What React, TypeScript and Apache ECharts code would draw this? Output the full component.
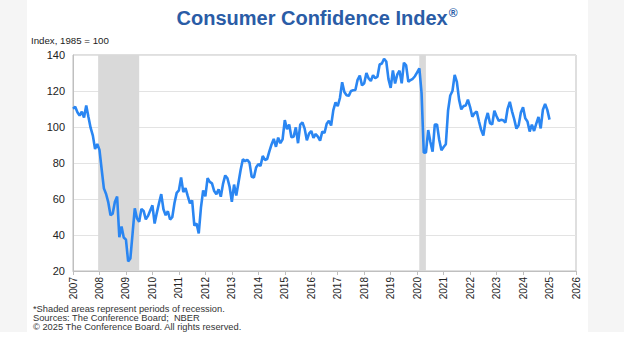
import React, { useEffect, useRef } from "react";
import * as echarts from "echarts";

const years = [2007, 2008, 2009, 2010, 2011, 2012, 2013, 2014, 2015, 2016, 2017, 2018, 2019, 2020, 2021, 2022, 2023, 2024, 2025];

const v2007 = [110.2, 111.2, 108.2, 106.3, 108.5, 105.3, 111.9, 105.6, 99.5, 95.2, 87.8, 90.6];
const v2008 = [87.3, 76.4, 65.9, 62.8, 58.1, 51.0, 51.9, 58.5, 61.4, 38.8, 44.7, 38.6];
const v2009 = [37.4, 25.3, 26.9, 40.8, 54.8, 49.3, 47.4, 54.5, 53.4, 48.7, 50.6, 53.6];
const v2010 = [56.5, 46.4, 52.3, 57.7, 62.7, 54.3, 51.0, 53.2, 48.6, 49.9, 57.8, 63.4];
const v2011 = [64.8, 72.0, 63.8, 66.0, 61.7, 57.6, 59.2, 45.2, 46.4, 40.9, 55.2, 64.8];
const v2012 = [61.5, 71.6, 69.5, 68.7, 64.4, 62.7, 65.4, 61.3, 68.4, 73.1, 71.5, 66.7];
const v2013 = [58.4, 68.0, 61.9, 69.0, 76.2, 82.1, 81.0, 81.8, 80.2, 72.4, 72.0, 77.5];
const v2014 = [79.4, 78.3, 83.9, 81.7, 82.2, 86.4, 90.3, 93.4, 89.0, 94.1, 91.0, 93.1];
const v2015 = [103.8, 98.8, 101.4, 94.3, 94.6, 99.8, 91.0, 101.3, 102.6, 99.1, 92.6, 96.3];
const v2016 = [97.8, 94.0, 96.1, 94.7, 92.4, 97.4, 96.7, 101.8, 103.5, 100.8, 109.4, 113.7];
const v2017 = [111.6, 116.1, 124.9, 119.4, 117.6, 117.3, 120.0, 120.4, 120.6, 126.2, 128.6, 123.1];
const v2018 = [124.3, 130.0, 127.0, 125.6, 128.8, 127.1, 127.9, 134.7, 135.3, 137.9, 136.4, 126.6];
const v2019 = [121.7, 131.4, 124.2, 129.2, 131.3, 124.3, 135.7, 134.2, 125.1, 126.1, 126.8, 128.2];
const v2020 = [130.4, 132.6, 118.8, 85.7, 85.9, 98.3, 91.7, 86.3, 101.3, 101.4, 92.9, 87.1];
const v2021 = [88.9, 90.4, 109.0, 117.5, 120.0, 128.9, 125.1, 115.2, 109.8, 111.6, 111.9, 115.2];
const v2022 = [111.1, 105.7, 107.6, 108.6, 103.2, 98.4, 95.3, 103.6, 107.8, 102.2, 101.4, 109.0];
const v2023 = [106.0, 103.4, 104.0, 103.7, 102.5, 110.1, 114.0, 108.7, 104.3, 99.1, 101.0, 108.0];
const v2024 = [110.9, 104.8, 103.1, 97.5, 101.3, 97.8, 101.9, 105.6, 99.2, 109.6, 112.8, 109.5];
const v2025 = [104.1];

const yearlyValues = [v2007, v2008, v2009, v2010, v2011, v2012, v2013, v2014, v2015, v2016, v2017, v2018, v2019, v2020, v2021, v2022, v2023, v2024, v2025];

// recession periods (decimal years)
const recessions = [
  [2007.95, 2009.5],
  [2020.08, 2020.33],
];

const yTicks = [20, 40, 60, 80, 100, 120, 140];

const FONT = "'Liberation Sans', Arial, sans-serif";

export default function App() {
  const ref = useRef<HTMLDivElement>(null);
  useEffect(() => {
    if (!ref.current) return;
    const chart = echarts.init(ref.current, null, { renderer: "svg" });
    const data: number[][] = [];
    yearlyValues.forEach((arr, i) => {
      arr.forEach((v, m) => data.push([years[i] + m / 12, v]));
    });
    chart.setOption({
      animation: false,
      backgroundColor: "#ffffff",
      textStyle: { fontFamily: FONT },
      title: {
        text: "{a|Consumer Confidence Index}{b|®}",
        left: 312,
        textAlign: "center",
        top: 2,
        textStyle: {
          rich: {
            a: { fontSize: 20, fontWeight: "bold", color: "#2a5ca6", fontFamily: FONT },
            b: { fontSize: 12, color: "#2a5ca6", fontFamily: FONT, verticalAlign: "top", padding: [0, 0, 10, 1] },
          },
        },
      },
      graphic: [
        { type: "rect", left: 0, top: 0, shape: { width: 27, height: 332 }, style: { fill: "#f5f5f5" }, silent: true, z: -10 },
        { type: "rect", left: 588, top: 0, shape: { width: 36, height: 332 }, style: { fill: "#f5f5f5" }, silent: true, z: -10 },
        {
          type: "text",
          left: 31,
          top: 35,
          style: { text: "Index, 1985 = 100", fontSize: 9.7, fill: "#222", fontFamily: FONT },
        },
        {
          type: "text",
          left: 33,
          top: 304,
          style: {
            text: "*Shaded areas represent periods of recession.\nSources: The Conference Board;  NBER\n© 2025 The Conference Board. All rights reserved.",
            fontSize: 9.3,
            lineHeight: 9.2,
            fill: "#333",
            fontFamily: FONT,
          },
        },
      ],
      grid: { left: 73, right: 48, top: 55, bottom: 88, show: true, borderColor: "#bfbfbf", borderWidth: 1 },
      xAxis: {
        type: "value",
        min: 2007,
        max: 2026,
        interval: 1,
        axisLine: { show: true, lineStyle: { color: "#bfbfbf" } },
        axisTick: { show: true, length: 4, lineStyle: { color: "#bfbfbf" } },
        splitLine: { show: false },
        axisLabel: { rotate: 90, fontSize: 10, color: "#222", margin: 6, formatter: (v: number) => String(v) },
      },
      yAxis: {
        type: "value",
        min: yTicks[0],
        max: yTicks[yTicks.length - 1],
        interval: 20,
        axisLine: { show: true, lineStyle: { color: "#bfbfbf" } },
        axisTick: { show: false },
        splitLine: { show: true, lineStyle: { color: "#e3e3e3" } },
        axisLabel: { fontSize: 11, color: "#222", margin: 8 },
      },
      series: [
        {
          type: "line",
          data,
          showSymbol: false,
          symbol: "none",
          lineStyle: { color: "#2a86f2", width: 2.6 },
          z: 3,
          markArea: {
            silent: true,
            itemStyle: { color: "#d9d9d9" },
            data: recessions.map((r) => [{ xAxis: r[0] }, { xAxis: r[1] }]),
          },
        },
      ],
    });
    return () => chart.dispose();
  }, []);
  return <div ref={ref} style={{ width: 624, height: 359, position: "absolute", left: 0, top: 0 }} />;
}
